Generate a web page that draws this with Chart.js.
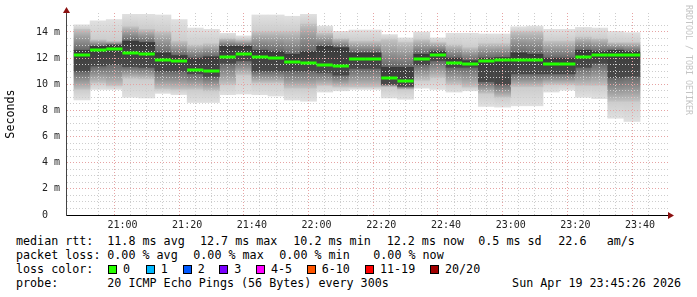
<!DOCTYPE html>
<html>
<head>
<meta charset="utf-8">
<script src="https://cdn.jsdelivr.net/npm/chart.js@4.4.1/dist/chart.umd.min.js"></script>
<style>
html,body{margin:0;padding:0;background:#fff;}
#wrap{position:relative;width:697px;height:297px;overflow:hidden;font-family:"DejaVu Sans Mono",monospace;background:#fff;}
#c{position:absolute;left:0;top:0;}
.t{position:absolute;height:14px;line-height:14px;font-size:11.7px;white-space:pre;color:#000;}
.box{position:absolute;width:7px;height:7px;border:1px solid #000;}
#brand{position:absolute;left:684px;top:5px;writing-mode:vertical-rl;font-size:8.3px;color:#c4c4c4;white-space:pre;line-height:9px;}
</style>
</head>
<body>
<div id="wrap">
  <canvas id="c" width="697" height="232"></canvas>
  <div id="brand">RRDTOOL / TOBI OETIKER</div>
  <div id="legend"></div>
</div>
<script>
// ---- data ----
const times = ["20:45","20:50","20:55","21:00","21:05","21:10","21:15","21:20","21:25","21:30","21:35","21:40",
  "21:45","21:50","21:55","22:00","22:05","22:10","22:15","22:20","22:25","22:30","22:35","22:40","22:45",
  "22:50","22:55","23:00","23:05","23:10","23:15","23:20","23:25","23:30","23:35"];
const medianRtt = [12.22,12.65,12.72,12.4,12.3,11.85,11.8,11.1,11.0,12.1,12.3,12.05,12.0,11.7,11.65,11.45,11.4,
  11.9,11.9,10.45,10.25,11.95,12.2,11.6,11.55,11.8,11.85,11.85,11.85,11.55,11.55,12.1,12.22,12.22,12.2];
const pingMin = [8.8,9.6,9.6,9.0,8.95,9.3,9.2,8.6,8.6,9.2,9.25,9.2,9.1,8.8,8.7,9.4,9.5,9.6,9.6,8.95,8.85,9.7,
  9.6,9.4,9.5,8.3,8.25,8.35,8.35,9.4,9.55,9.0,8.9,7.4,7.15];
const pingLoMid = [9.6,10.1,9.9,10.45,10.4,9.65,9.6,9.6,9.5,10.0,10.7,10.1,10.1,9.7,9.7,9.9,9.8,9.8,9.8,9.8,9.6,
  10.3,10.5,10.0,9.8,9.3,9.0,9.8,9.8,10.0,10.0,9.9,9.9,8.7,8.7];
const pingLoDark = [11.0,11.4,11.5,11.35,11.3,11.0,11.0,10.8,10.6,11.6,11.8,11.0,11.0,11.0,11.0,10.9,10.7,11.2,
  11.2,10.0,9.85,11.5,11.8,11.3,11.3,10.2,10.0,10.8,10.8,10.8,10.8,11.3,11.6,10.5,10.6];
const pingHiDark = [12.6,12.9,13.0,13.3,13.2,12.4,12.2,12.0,12.1,12.9,12.9,12.6,12.5,12.3,12.5,12.9,12.8,12.4,
  12.4,11.3,11.3,12.3,12.5,12.0,11.8,12.0,12.05,12.4,12.3,12.0,12.0,12.6,12.5,12.6,12.5];
const pingHiMid = [14.2,13.4,13.3,14.4,14.2,14.0,13.3,13.0,13.1,13.5,13.4,14.0,14.0,14.0,14.6,13.9,13.5,13.3,
  13.3,13.4,13.2,13.4,13.2,13.0,12.8,13.1,13.1,14.0,14.0,13.3,13.3,13.6,13.5,13.2,13.2];
const pingMax = [14.55,14.85,14.95,15.35,15.35,15.3,14.95,14.3,14.2,13.9,13.7,15.3,15.3,15.2,15.35,14.45,14.05,
  14.15,14.15,13.8,13.55,14.0,13.55,13.9,13.9,13.85,13.85,14.4,14.45,14.2,14.2,14.35,14.3,14.05,13.95];
const xTickLabels = ["21:00","21:20","21:40","22:00","22:20","22:40","23:00","23:20","23:40"];
const yTickLabels = ["0","2 m","4 m","6 m","8 m","10 m","12 m","14 m"];

const statsRow1 = ["median rtt:","11.8 ms avg","12.7 ms max","10.2 ms min","12.2 ms now","0.5 ms sd","22.6","am/s"];
const statsRow2 = ["packet loss:","0.00 % avg","0.00 % max","0.00 % min","0.00 % now"];
const lossLabels = ["0","1","2","3","4-5","6-10","11-19","20/20"];
const lossColors = ["#26ff00","#00b8ff","#0059ff","#7a00ff","#ff00ff","#ff5500","#ff0000","#a10000"];
const probeText = ["probe:","20 ICMP Echo Pings (56 Bytes) every 300s"];
const dateText = "Sun Apr 19 23:45:26 2026";

// ---- helpers ----
const toMin = s => { const [h,m] = s.split(':').map(Number); return h*60 + m - 20*60; };
const xLabelMap = {};
xTickLabels.forEach(l => { xLabelMap[toMin(l)] = l; });
const yLabelMap = {};
yTickLabels.forEach(l => { yLabelMap[parseFloat(l)] = l; });

function grad(cLo, cHi){
  return (ctx) => {
    if (ctx.type !== 'data') return cLo;
    const ys = ctx.chart.scales.y;
    const v = ctx.raw && ctx.raw.y;
    if (!ys || !v) return cLo;
    const p0 = ys.getPixelForValue(v[0]), p1 = ys.getPixelForValue(v[1]);
    if (!isFinite(p0) || !isFinite(p1) || Math.abs(p0-p1) < 0.5) return cLo;
    const g = ctx.chart.ctx.createLinearGradient(0, p0, 0, p1);
    g.addColorStop(0, cLo); g.addColorStop(1, cHi);
    return g;
  };
}
function band(lo, hi, fill, order){
  return {
    data: times.map((t,i) => ({x: toMin(t) + 2.5, y: [lo[i], hi[i]]})),
    backgroundColor: fill, borderWidth: 0, barPercentage: 1, categoryPercentage: 1,
    grouped: false, order: order
  };
}

const MAJOR = '#e6a3a3', MINOR = '#cdcdcd';

const decor = {
  id: 'decor',
  afterDraw(chart){
    const {ctx, chartArea: a, scales: {x: xs, y: ys}} = chart;
    const meta = chart.getDatasetMeta(0);
    ctx.save();
    ctx.beginPath(); ctx.rect(a.left, a.top, a.right - a.left, a.bottom - a.top); ctx.clip();
    ctx.fillStyle = '#22ff00';
    medianRtt.forEach((m, i) => {
      const el = meta.data[i];
      const y = ys.getPixelForValue(m);
      ctx.fillRect(el.x - el.width/2, Math.round(y) - 1.5, el.width, 3);
    });
    ctx.restore();
    ctx.save();
    ctx.fillStyle = '#8b1010';
    const lx = Math.round(a.left) + 0.5;
    ctx.beginPath(); ctx.moveTo(lx, a.top - 6); ctx.lineTo(lx - 3.5, a.top); ctx.lineTo(lx + 3.5, a.top); ctx.closePath(); ctx.fill();
    const by = Math.round(a.bottom) + 0.5;
    ctx.beginPath(); ctx.moveTo(a.right + 4, by); ctx.lineTo(a.right - 2, by - 3.5); ctx.lineTo(a.right - 2, by + 3.5); ctx.closePath(); ctx.fill();
    ctx.restore();
  }
};

new Chart(document.getElementById('c'), {
  type: 'bar',
  data: {
    datasets: [
      band(pingMin, pingLoMid, grad('#e0e0e0', '#cccccc'), 5),
      band(pingLoMid, pingLoDark, grad('#c2c2c2', '#666666'), 4),
      band(pingLoDark, pingHiDark, grad('#4a4a4a', '#3a3a3a'), 3),
      band(pingHiDark, pingHiMid, grad('#666666', '#c2c2c2'), 4),
      band(pingHiMid, pingMax, grad('#cccccc', '#e0e0e0'), 5)
    ]
  },
  options: {
    responsive: false,
    animation: false,
    events: [],
    layout: {padding: {top: 13, right: 27, left: 0, bottom: 0}},
    plugins: {legend: {display: false}, tooltip: {enabled: false}},
    scales: {
      x: {
        type: 'linear', min: 45.3, max: 226.5,
        afterFit: s => { s.height = 17; },
        afterBuildTicks: s => { s.ticks = s.ticks.filter(t => Math.abs(t.value/5 - Math.round(t.value/5)) < 1e-6); },
        ticks: {stepSize: 5, autoSkip: false, maxRotation: 0, padding: 4, color: '#222',
          font: {family: 'DejaVu Sans Mono', size: 10},
          callback: v => xLabelMap[Math.round(v)] && Math.abs(v - Math.round(v)) < 1e-6 ? xLabelMap[Math.round(v)] : ''},
        grid: {z: 1, drawTicks: false, lineWidth: 1,
          color: c => (c.tick && Math.abs(c.tick.value % 20) < 1e-6) ? MAJOR : MINOR},
        border: {display: true, color: '#000', width: 1, dash: [1, 2], z: 2}
      },
      y: {
        type: 'linear', min: 0, max: 15.45,
        afterFit: s => { s.width = 66; },
        afterBuildTicks: s => { s.ticks = s.ticks.filter(t => Math.abs(t.value*2 - Math.round(t.value*2)) < 1e-6); },
        ticks: {stepSize: 0.5, autoSkip: false, padding: 6, color: '#222',
          font: {family: 'DejaVu Sans Mono', size: 10},
          callback: v => { const l = yLabelMap[v]; if (l === undefined) return ''; return l.indexOf(' m') < 0 ? l + '  ' : l; }},
        grid: {z: 1, drawTicks: false, lineWidth: 1,
          color: c => (c.tick && Math.abs(c.tick.value % 2) < 1e-6) ? MAJOR : MINOR},
        border: {display: true, color: '#444', width: 1, dash: [1, 2], z: 2},
        title: {display: true, text: 'Seconds', color: '#000', padding: {top: 4, bottom: 0},
          font: {family: 'DejaVu Sans Mono', size: 11.7}}
      }
    }
  },
  plugins: [decor]
});

// ---- legend text below the plot ----
const lg = document.getElementById('legend');
function put(text, left, center){
  const d = document.createElement('div');
  d.className = 't'; d.textContent = text;
  d.style.left = left + 'px'; d.style.top = (center - 7) + 'px';
  lg.appendChild(d); return d;
}
const row1X = [16, 107.3, 200, 293.3, 386.7, 478.3, 558.3, 606.7];
statsRow1.forEach((s, i) => put(s, row1X[i], 241));
const row2X = [16, 107.3, 193.3, 279.3, 373.3];
statsRow2.forEach((s, i) => put(s, row2X[i], 255));
put("loss color:", 16, 269);
const boxX = [108, 145.7, 182.7, 219.3, 256, 306.7, 365, 430];
lossLabels.forEach((l, i) => {
  const b = document.createElement('div');
  b.className = 'box'; b.style.background = lossColors[i];
  b.style.left = boxX[i] + 'px'; b.style.top = '265px';
  lg.appendChild(b);
  put(l, boxX[i] + 15, 269);
});
put(probeText[0], 16, 283);
put(probeText[1], 107.3, 283);
const dt = put(dateText, 0, 283);
dt.style.left = ''; dt.style.right = '16px';
</script>
</body>
</html>
